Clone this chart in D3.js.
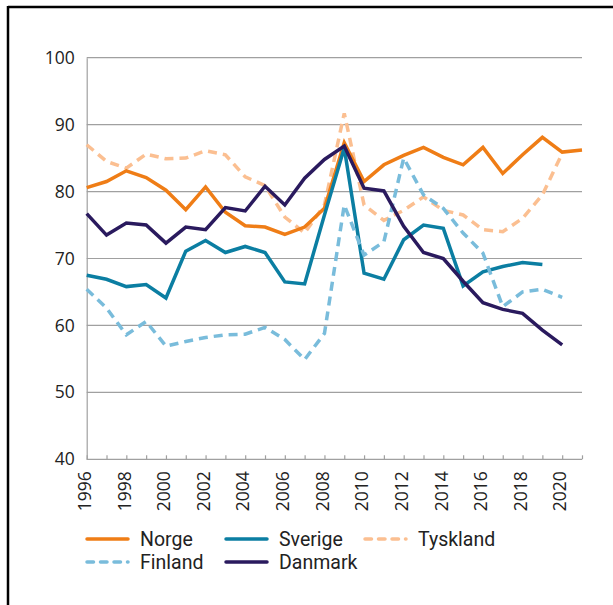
<!DOCTYPE html>
<html><head><meta charset="utf-8">
<script src="https://cdn.jsdelivr.net/npm/d3@7"></script>
<style>body{margin:0;background:#fff}svg{display:block}text{font-family:"Open Sans",sans-serif;fill:#222}</style>
</head><body><svg id="c" width="613" height="605"></svg>
<script>
const years = d3.range(1996, 2022);
const norge = [80.6,81.5,83.1,82.1,80.2,77.3,80.7,76.9,74.9,74.7,73.6,74.7,77.5,87.3,81.5,84.0,85.4,86.6,85.1,84.0,86.6,82.7,85.5,88.1,85.9,86.2];
const sverige = [67.5,66.9,65.8,66.1,64.1,71.1,72.7,70.9,71.8,70.9,66.5,66.2,76.5,86.5,67.8,66.9,72.8,75.0,74.5,65.9,68.0,68.8,69.4,69.1];
const tyskland = [87.0,84.5,83.5,85.6,84.9,85.0,86.1,85.5,82.2,80.9,76.2,73.8,78.0,91.7,78.0,75.7,77.2,79.2,77.2,76.5,74.3,74.0,76.0,79.5,85.7];
const finland = [65.4,62.6,58.6,60.6,56.9,57.6,58.2,58.6,58.7,59.7,57.9,54.9,58.8,78.0,70.5,72.5,85.0,79.5,77.5,73.8,70.8,62.8,65.0,65.4,64.2];
const danmark = [76.7,73.5,75.3,75.0,72.3,74.7,74.3,77.6,77.1,80.8,78.0,82.0,84.8,86.8,80.5,80.1,74.8,70.9,70.0,66.6,63.4,62.4,61.8,59.3,57.1];
const yTicks = [40,50,60,70,80,90,100];
const xLabels = d3.range(1996, 2021, 2);

const series = [
  {name:"Tyskland", values:tyskland, color:"#fbbf91", dash:"9,6"},
  {name:"Norge", values:norge, color:"#ef7d16", dash:null},
  {name:"Sverige", values:sverige, color:"#0b7ea2", dash:null},
  {name:"Finland", values:finland, color:"#79bcdb", dash:"9,6"},
  {name:"Danmark", values:danmark, color:"#2a1a5e", dash:null}
];

const svg = d3.select("#c");
// frame
svg.append("line").attr("x1",8).attr("x2",613).attr("y1",7).attr("y2",7).attr("stroke","#000").attr("stroke-width",2.5);
svg.append("line").attr("x1",8).attr("x2",8).attr("y1",6).attr("y2",605).attr("stroke","#000").attr("stroke-width",2.5);

const x = d3.scaleLinear().domain([1996,2021]).range([86.7,582]);
const y = d3.scaleLinear().domain([40,100]).range([459.3,57.7]);

const g = svg.append("g");
// gridlines
g.selectAll(".grid").data(yTicks.slice(1)).join("line")
  .attr("x1",x(1996)).attr("x2",x(2021)).attr("y1",d=>y(d)).attr("y2",d=>y(d))
  .attr("stroke","#a0a0a0").attr("stroke-width",1.2);
// y axis
const yAxis = d3.axisLeft(y).tickValues(yTicks).tickSize(0).tickPadding(12);
const ya = g.append("g").attr("transform",`translate(${x(1996)},0)`).call(yAxis);
ya.select(".domain").attr("stroke","#a0a0a0").attr("stroke-width",1.2);
ya.selectAll("text").style("font-size","17.5px").attr("fill","#222");
// x axis
const xAxis = d3.axisBottom(x).tickValues(years).tickSize(-4).tickFormat(d => xLabels.includes(d) ? d : "");
const xa = g.append("g").attr("transform",`translate(0,${y(40)})`).call(xAxis);
xa.select(".domain").attr("stroke","#a0a0a0").attr("stroke-width",1.2).attr("d",`M${x(1996)},0H${x(2021)}`);
xa.selectAll(".tick line").attr("stroke","#a0a0a0").attr("stroke-width",1.2);
xa.selectAll("text").style("font-size","17.5px").attr("fill","#222")
  .attr("transform","rotate(-90)").attr("text-anchor","end").attr("dy","0.33em").attr("dx","0").attr("x",-12).attr("y",-2);

const line = d3.line().x((d,i)=>x(years[i])).y(d=>y(d));
series.forEach(s=>{
  g.append("path").datum(s.values).attr("d",line).attr("fill","none")
   .attr("stroke",s.color).attr("stroke-width",3.5).attr("stroke-linejoin","miter")
   .attr("stroke-dasharray",s.dash);
});

// legend
const legend = [
  {name:"Norge", s:series[1], lx:87, ly:539},
  {name:"Sverige", s:series[2], lx:226, ly:539},
  {name:"Tyskland", s:series[0], lx:365, ly:539},
  {name:"Finland", s:series[3], lx:87, ly:562},
  {name:"Danmark", s:series[4], lx:226, ly:562}
];
const lg = svg.append("g");
legend.forEach(l=>{
  lg.append("line").attr("x1",l.lx).attr("x2",l.lx+41).attr("y1",l.ly).attr("y2",l.ly)
    .attr("stroke",l.s.color).attr("stroke-width",3.5).attr("stroke-linecap","round")
    .attr("stroke-dasharray",l.s.dash ? "6.5,7" : null);
  lg.append("text").attr("x",l.lx+53).attr("y",l.ly).attr("dy","0.36em")
    .style("font-family","Roboto, sans-serif").style("font-size","19.5px").text(l.name);
});
</script></body></html>
